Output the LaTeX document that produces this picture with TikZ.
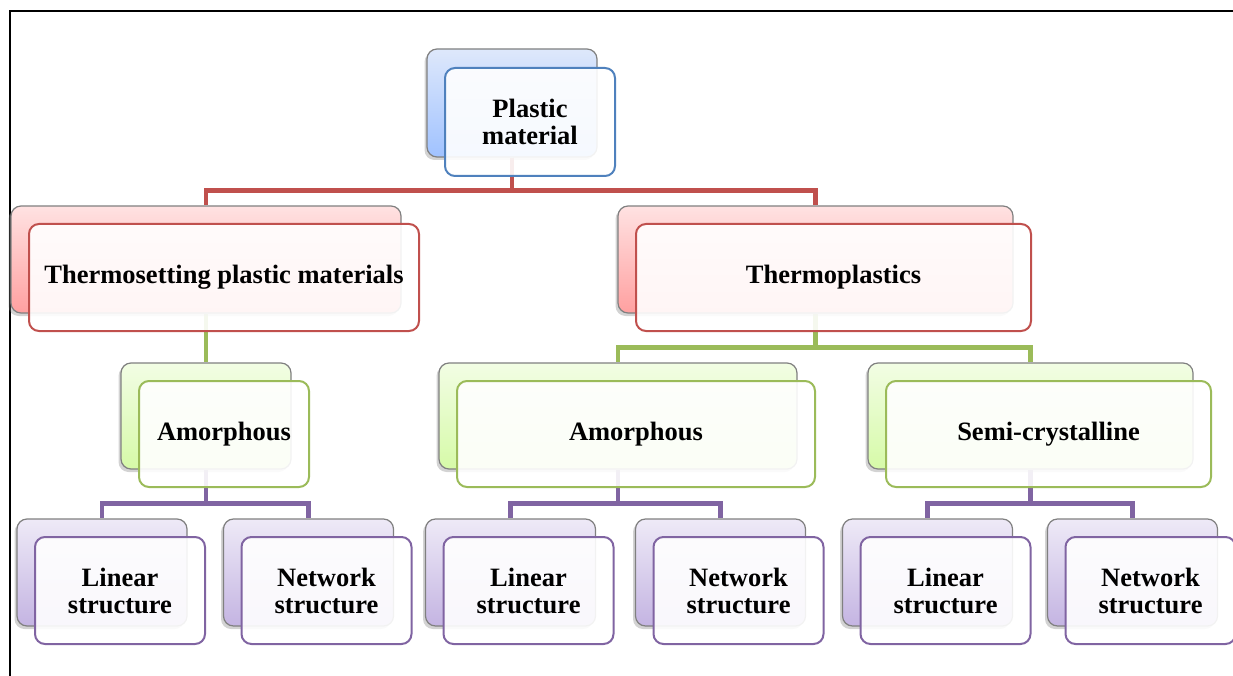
\documentclass[tikz,border=0pt]{standalone}
\usepackage{fontspec}
\setmainfont{Liberation Serif}
\usepackage{tikz}
\usetikzlibrary{shadows,positioning,backgrounds}
\usepackage{xcolor}
\definecolor{pmblue}{HTML}{4F81BD}
\definecolor{pmred}{HTML}{C0504D}
\definecolor{pmgreen}{HTML}{9BBB59}
\definecolor{pmpurple}{HTML}{8064A2}
\definecolor{pmgray}{RGB}{128,128,128}
\definecolor{bluetop}{RGB}{222,232,251}
\definecolor{bluebot}{RGB}{160,194,255}
\definecolor{redtop}{RGB}{255,226,226}
\definecolor{redbot}{RGB}{255,160,160}
\definecolor{greentop}{RGB}{242,253,228}
\definecolor{greenbot}{RGB}{214,250,168}
\definecolor{purpletop}{RGB}{238,234,247}
\definecolor{purplebot}{RGB}{196,180,226}
\tikzstyle{backbox} = [draw=pmgray, line width=1.2pt, rounded corners=10pt, drop shadow={shadow xshift=-2.5pt, shadow yshift=-3pt, opacity=0.35}]
\tikzstyle{frontbox} = [line width=2pt, rounded corners=10pt, fill=white, fill opacity=0.9, text opacity=1, align=center, inner sep=0pt, font=\fontsize{26.5}{27}\selectfont\bfseries]
\tikzstyle{blueback} = [backbox, top color=bluetop, bottom color=bluebot]
\tikzstyle{redback} = [backbox, top color=redtop, bottom color=redbot]
\tikzstyle{greenback} = [backbox, top color=greentop, bottom color=greenbot]
\tikzstyle{purpleback} = [backbox, top color=purpletop, bottom color=purplebot]
\tikzstyle{link} = [line width=4.5pt, line join=miter]

\begin{document}
\begin{tikzpicture}[x=1pt, y=-1pt]
\useasboundingbox (0,0) rectangle (1233,676);
% Frame
\draw[line width=2pt] (10,676) -- (10,11) -- (1233,11);

% Root
\node[blueback, minimum width=170pt, minimum height=108pt] (rootb) at (512,103) {};
\node[frontbox, draw=pmblue, minimum width=170pt, minimum height=108pt] (root) at ([shift={(18,19)}]rootb.center) {Plastic\\material};

% First level
\node[redback, minimum width=390pt, minimum height=107pt] (thsb) at (206,259.5) {};
\node[frontbox, draw=pmred, minimum width=390pt, minimum height=107pt] (ths) at ([shift={(18,18)}]thsb.center) {Thermosetting plastic materials};
\node[redback, minimum width=395pt, minimum height=107pt] (thpb) at (815.5,259.5) {};
\node[frontbox, draw=pmred, minimum width=395pt, minimum height=107pt] (thp) at ([shift={(18,18)}]thpb.center) {Thermoplastics};

% Second level
\node[greenback, minimum width=170pt, minimum height=106pt] (amlb) at (206,416) {};
\node[frontbox, draw=pmgreen, minimum width=170pt, minimum height=106pt] (aml) at ([shift={(18,18)}]amlb.center) {Amorphous};
\node[greenback, minimum width=358pt, minimum height=106pt] (amrb) at (618,416) {};
\node[frontbox, draw=pmgreen, minimum width=358pt, minimum height=106pt] (amr) at ([shift={(18,18)}]amrb.center) {Amorphous};
\node[greenback, minimum width=325pt, minimum height=106pt] (semib) at (1030.5,416) {};
\node[frontbox, draw=pmgreen, minimum width=325pt, minimum height=106pt] (semi) at ([shift={(18,18)}]semib.center) {Semi-crystalline};

% Leaves
\foreach \nm/\cx/\txt in {lina/102/Linear, neta/308.5/Network, linb/510.5/Linear, netb/720.5/Network, linc/927.5/Linear, netc/1132.5/Network}{
  \node[purpleback, minimum width=170pt, minimum height=107pt] (\nm b) at (\cx,572.5) {};
  \node[frontbox, draw=pmpurple, minimum width=170pt, minimum height=107pt] (\nm) at ([shift={(18,18)}]\nm b.center) {\txt\\structure};
}

% Connectors
\begin{scope}[on background layer]
\draw[link, pmred] (rootb.south) -- ++(0,33) -| (thsb.north);
\draw[link, pmred] (rootb.south) -- ++(0,33) -| (thpb.north);
\draw[link, pmgreen] (thsb.south) -- (amlb.north);
\draw[link, pmgreen] (thpb.south) -- ++(0,34) -| (amrb.north);
\draw[link, pmgreen] (thpb.south) -- ++(0,34) -| (semib.north);
\draw[link, pmpurple] (amlb.south) -- ++(0,34) -| (linab.north);
\draw[link, pmpurple] (amlb.south) -- ++(0,34) -| (netab.north);
\draw[link, pmpurple] (amrb.south) -- ++(0,34) -| (linbb.north);
\draw[link, pmpurple] (amrb.south) -- ++(0,34) -| (netbb.north);
\draw[link, pmpurple] (semib.south) -- ++(0,34) -| (lincb.north);
\draw[link, pmpurple] (semib.south) -- ++(0,34) -| (netcb.north);
\end{scope}
\end{tikzpicture}
\end{document}
